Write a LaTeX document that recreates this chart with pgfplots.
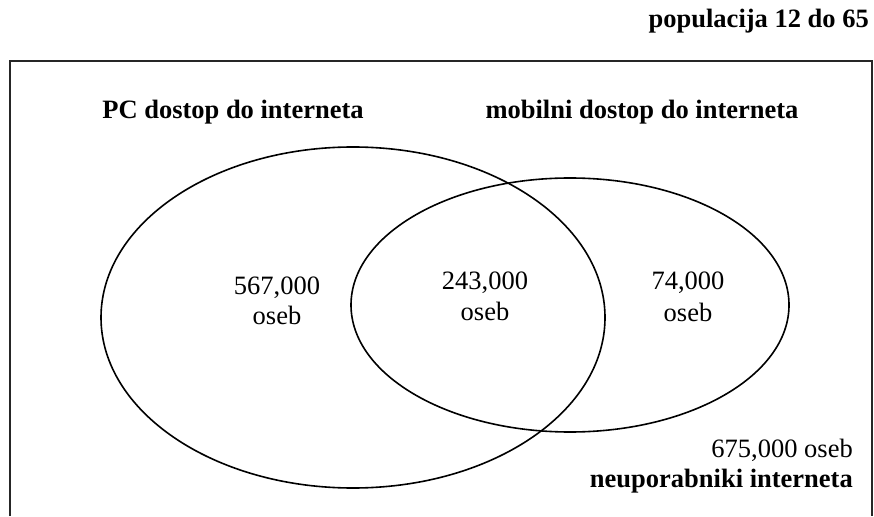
\documentclass[border=0pt]{standalone}
\usepackage{pgfplots}
\pgfplotsset{compat=1.18}
\usepackage{fontspec}
\setmainfont{Liberation Serif}
\newcommand{\vennfont}{\fontsize{26.5}{30}\selectfont}
\begin{document}
\begin{tikzpicture}
\begin{axis}[
  width=874pt, height=516pt, scale only axis,
  xmin=0, xmax=874, ymin=0, ymax=516,
  hide axis, clip=false,
]
% invisible frame for bounding box
\addplot[draw=none] coordinates {(0,0) (874,516)};
% outer frame (open at the bottom)
\draw[black!85, line width=1.3pt] (axis cs:10,0) -- (axis cs:10,455) -- (axis cs:872,455) -- (axis cs:872,0);
% sets
\draw[black, line width=1.6pt] (axis cs:353,198.5) ellipse [x radius=252, y radius=170.5];
\draw[black, line width=1.6pt] (axis cs:570,211) ellipse [x radius=219, y radius=127];
% texts
\node[anchor=base east, inner sep=0pt, font=\vennfont\bfseries] at (axis cs:869,488) {populacija 12 do 65};
\node[anchor=base, inner sep=0pt, font=\vennfont\bfseries] at (axis cs:233,397) {PC dostop do interneta};
\node[anchor=base, inner sep=0pt, font=\vennfont\bfseries] at (axis cs:642,397) {mobilni dostop do interneta};
\node[anchor=base, inner sep=0pt, font=\vennfont] at (axis cs:277,221) {567,000};
\node[anchor=base, inner sep=0pt, font=\vennfont] at (axis cs:277,191) {oseb};
\node[anchor=base, inner sep=0pt, font=\vennfont] at (axis cs:485,226) {243,000};
\node[anchor=base, inner sep=0pt, font=\vennfont] at (axis cs:485,196) {oseb};
\node[anchor=base, inner sep=0pt, font=\vennfont] at (axis cs:688,226) {74,000};
\node[anchor=base, inner sep=0pt, font=\vennfont] at (axis cs:688,194) {oseb};
\node[anchor=base east, inner sep=0pt, font=\vennfont] at (axis cs:853,59) {675,000 oseb};
\node[anchor=base east, inner sep=0pt, font=\vennfont\bfseries] at (axis cs:853,29) {neuporabniki interneta};
\end{axis}
\end{tikzpicture}
\end{document}
